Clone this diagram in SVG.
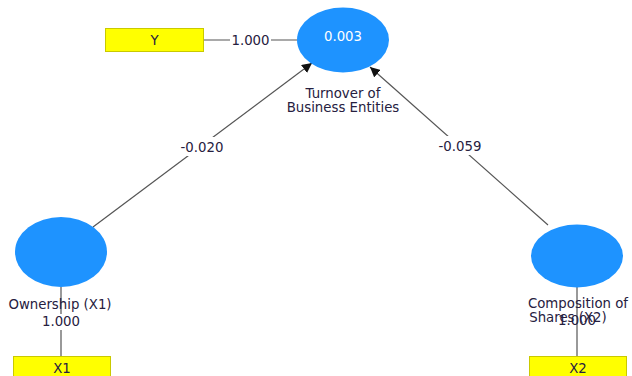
<svg xmlns="http://www.w3.org/2000/svg" width="632" height="376" viewBox="0 0 632 376">
<style>
  .lv { fill: #1e93ff; }
  .ind { fill: #ffff00; stroke: #c9c900; stroke-width: 1; }
  .t { font-family: "DejaVu Sans", Verdana, sans-serif; font-size: 13.3px; fill: #262040; text-anchor: middle; }
  .c { stroke: #555555; stroke-width: 1.2; fill: none; }
  .bg { fill: #ffffff; }
</style>
<defs>
  <marker id="ah" viewBox="0 0 10 10" refX="10" refY="5" markerWidth="10" markerHeight="10" markerUnits="userSpaceOnUse" orient="auto">
    <path d="M0,0 L10,5 L0,10 z" fill="#111111"/>
  </marker>
</defs>
<rect width="632" height="376" fill="#ffffff"/>
<g id="connectors">
  <line class="c" x1="204" y1="40" x2="297" y2="40"/>
  <rect class="bg" x="230" y="32" width="41" height="16"/>
  <text class="t" x="250.5" y="45">1.000</text>
  <line class="c" x1="93" y1="227" x2="312" y2="63" marker-end="url(#ah)"/>
  <rect class="bg" x="179" y="137" width="46" height="19"/>
  <text class="t" x="202" y="151.5">-0.020</text>
  <line class="c" x1="548" y1="225" x2="370" y2="67" marker-end="url(#ah)"/>
  <rect class="bg" x="437" y="136" width="46" height="19"/>
  <text class="t" x="460" y="150.5">-0.059</text>
  <line class="c" x1="61" y1="287" x2="61" y2="356"/>
  <line class="c" x1="577" y1="287" x2="577" y2="356"/>
</g>
<g id="Y">
  <rect class="ind" x="105.5" y="28.5" width="98" height="23"/>
  <text class="t" x="154.5" y="45">Y</text>
</g>
<g id="turnover">
  <ellipse class="lv" cx="343" cy="40" rx="46" ry="32.5"/>
  <text class="t" x="343" y="41" style="fill:#ffffff">0.003</text>
  <text class="t" x="343" y="98">Turnover of</text>
  <text class="t" x="343" y="112">Business Entities</text>
</g>
<g id="ownership">
  <ellipse class="lv" cx="61" cy="252" rx="46" ry="35"/>
  <text class="t" x="60" y="308.5">Ownership (X1)</text>
  <rect class="bg" x="41" y="314" width="40" height="16"/>
  <text class="t" x="61" y="326">1.000</text>
</g>
<g id="X1">
  <rect class="ind" x="13.5" y="356.5" width="97" height="24"/>
  <text class="t" x="62" y="372.5">X1</text>
</g>
<g id="composition">
  <ellipse class="lv" cx="577" cy="256" rx="46" ry="31.5"/>
  <text class="t" x="578" y="307.5">Composition of</text>
  <text class="t" x="568" y="321.5">Shares (X2)</text>
  <text class="t" x="577" y="325">1.000</text>
</g>
<g id="X2">
  <rect class="ind" x="529.5" y="356.5" width="97" height="24"/>
  <text class="t" x="578" y="372.5">X2</text>
</g>
</svg>
